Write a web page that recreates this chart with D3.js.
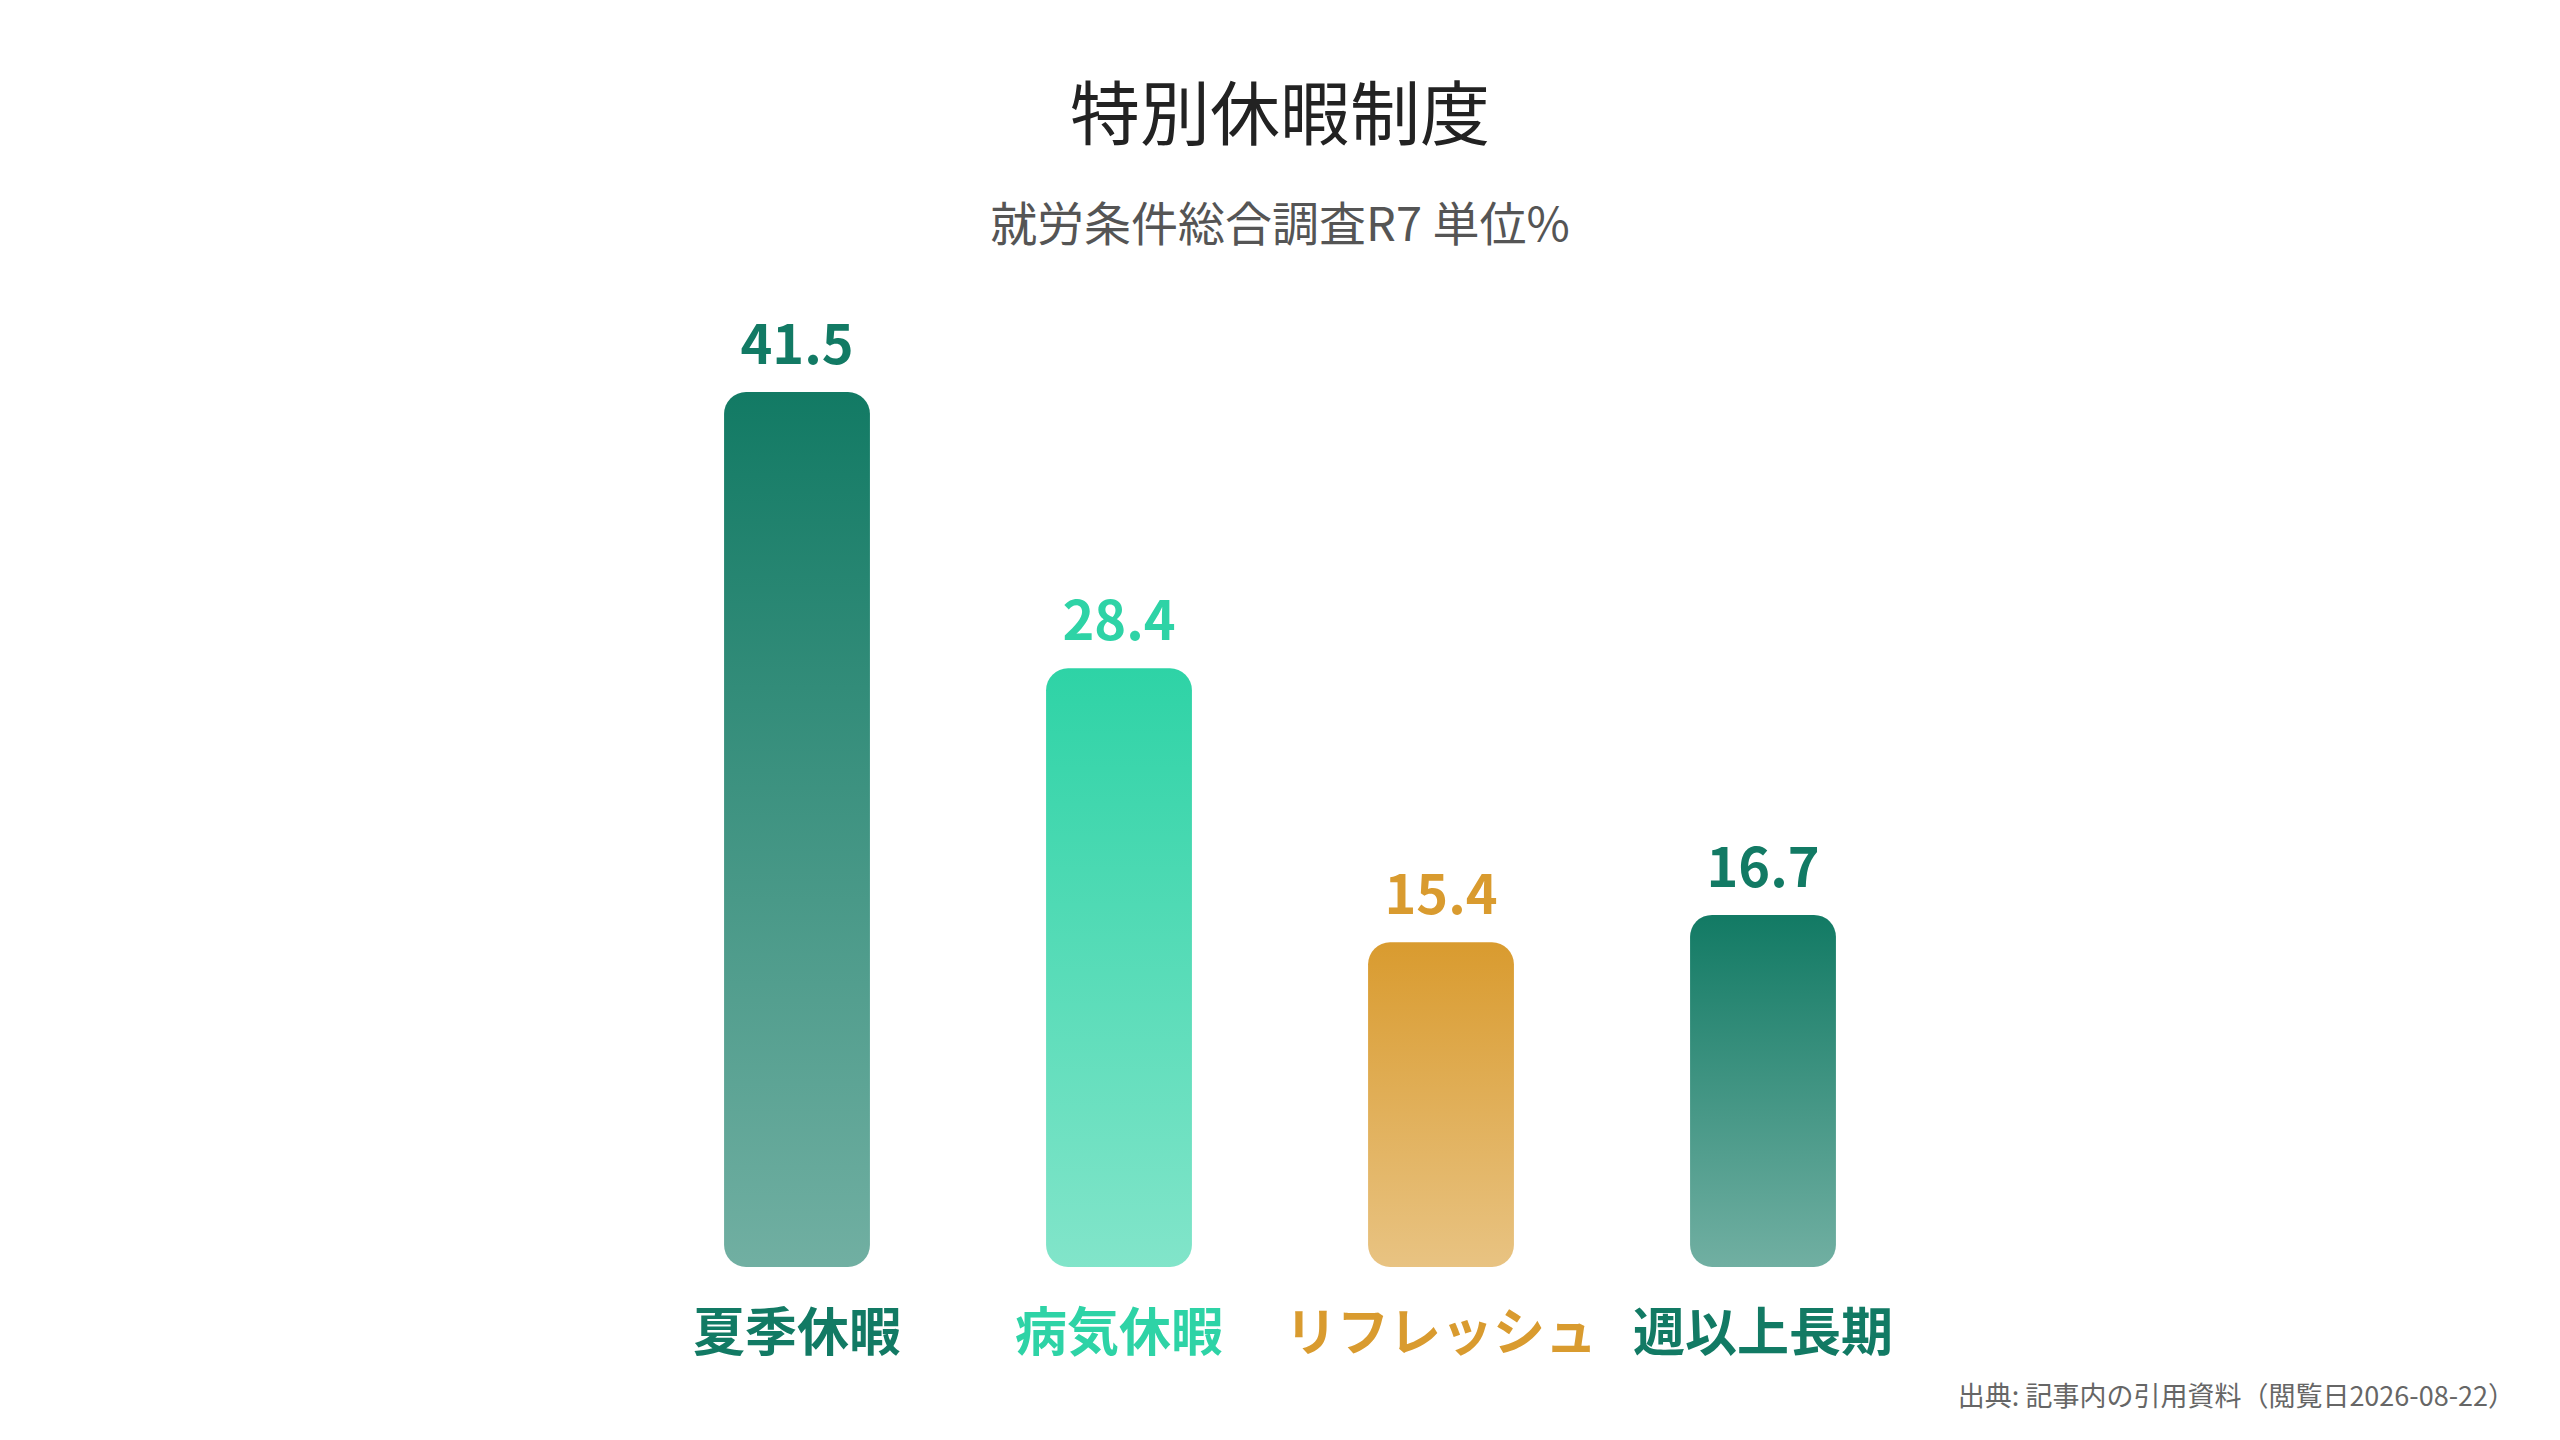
<!DOCTYPE html>
<html lang="ja">
<head>
<meta charset="utf-8">
<script src="https://cdn.jsdelivr.net/npm/d3@7"></script>
<style>
    html, body { margin: 0; padding: 0; background: #ffffff; }
    #chart { width: 2560px; height: 1440px; }
    text { font-family: "Noto Sans CJK JP", "Noto Sans", sans-serif; }
</style>
</head>
<body>
<div id="chart"></div>
<script>
const categories = ["夏季休暇", "病気休暇", "リフレッシュ", "週以上長期"];
const values = [41.5, 28.4, 15.4, 16.7];
const barColors = ["#127a64", "#2ed3a6", "#d99b2f", "#127a64"];

const titleText = "特別休暇制度";
const subtitleText = "就労条件総合調査R7 単位%";
const sourceText = "出典: 記事内の引用資料（閲覧日2026-08-22）";

const width = 2560;
const height = 1440;
const plotLeft = 636;
const plotRight = 1924;
const plotTop = 392;
const plotBottom = 1267;

function setChart(chartId) {
    let svg = d3.select(`#${ chartId }`)
        .append("svg")
            .attr("id", `${ chartId }-svg`)
            .attr("width", width)
            .attr("height", height);

    svg.append("rect")
        .attr("width", width)
        .attr("height", height)
        .attr("fill", "#ffffff");

    setHeader(svg);
    setBars(svg);
    setFooter(svg);
}

function setHeader(svg) {
    svg.append("text")
        .attr("x", width / 2)
        .attr("y", 140)
        .attr("text-anchor", "middle")
        .attr("font-size", 70)
        .attr("font-weight", 400)
        .attr("fill", "#222222")
        .text(titleText);

    svg.append("text")
        .attr("x", width / 2)
        .attr("y", 241)
        .attr("text-anchor", "middle")
        .attr("font-size", 47)
        .attr("font-weight", 400)
        .attr("fill", "#555555")
        .text(subtitleText);
}

function setBars(svg) {
    let dataset = categories.map((name, index) => ({
        name: name,
        value: values[index],
        color: barColors[index]
    }));

    let scaleX = d3.scaleBand()
        .domain(categories)
        .range([plotLeft, plotRight])
        .paddingInner(0.547)
        .paddingOuter(0.2735);

    let scaleY = d3.scaleLinear()
        .domain([0, d3.max(values)])
        .range([plotBottom, plotTop]);

    let defs = svg.append("defs");
    dataset.forEach((data, index) => {
        let grad = defs.append("linearGradient")
            .attr("id", `bar-grad-${ index }`)
            .attr("x1", 0).attr("y1", 0)
            .attr("x2", 0).attr("y2", 1);
        grad.append("stop")
            .attr("offset", "0%")
            .attr("stop-color", data.color)
            .attr("stop-opacity", 1);
        grad.append("stop")
            .attr("offset", "100%")
            .attr("stop-color", data.color)
            .attr("stop-opacity", 0.6);
    });

    svg.selectAll("rect.bar")
        .data(dataset)
        .enter()
        .append("rect")
            .attr("class", "bar")
            .attr("x", data => scaleX(data.name))
            .attr("y", data => scaleY(data.value))
            .attr("width", scaleX.bandwidth())
            .attr("height", data => scaleY(0) - scaleY(data.value))
            .attr("rx", 22)
            .attr("ry", 22)
            .attr("fill", (data, index) => `url(#bar-grad-${ index })`);

    svg.selectAll("text.value")
        .data(dataset)
        .enter()
        .append("text")
            .attr("class", "value")
            .attr("x", data => scaleX(data.name) + scaleX.bandwidth() / 2)
            .attr("y", data => scaleY(data.value) - 28)
            .attr("text-anchor", "middle")
            .attr("font-size", 54)
            .attr("font-weight", 700)
            .attr("fill", data => data.color)
            .text(data => data.value.toFixed(1));

    svg.selectAll("text.category")
        .data(dataset)
        .enter()
        .append("text")
            .attr("class", "category")
            .attr("x", data => scaleX(data.name) + scaleX.bandwidth() / 2)
            .attr("y", 1351)
            .attr("text-anchor", "middle")
            .attr("font-size", 52)
            .attr("font-weight", 700)
            .attr("fill", data => data.color)
            .text(data => data.name);
}

function setFooter(svg) {
    svg.append("text")
        .attr("x", 2515)
        .attr("y", 1406)
        .attr("text-anchor", "end")
        .attr("font-size", 27)
        .attr("fill", "#666666")
        .text(sourceText);
}

setChart("chart");
</script>
</body>
</html>
